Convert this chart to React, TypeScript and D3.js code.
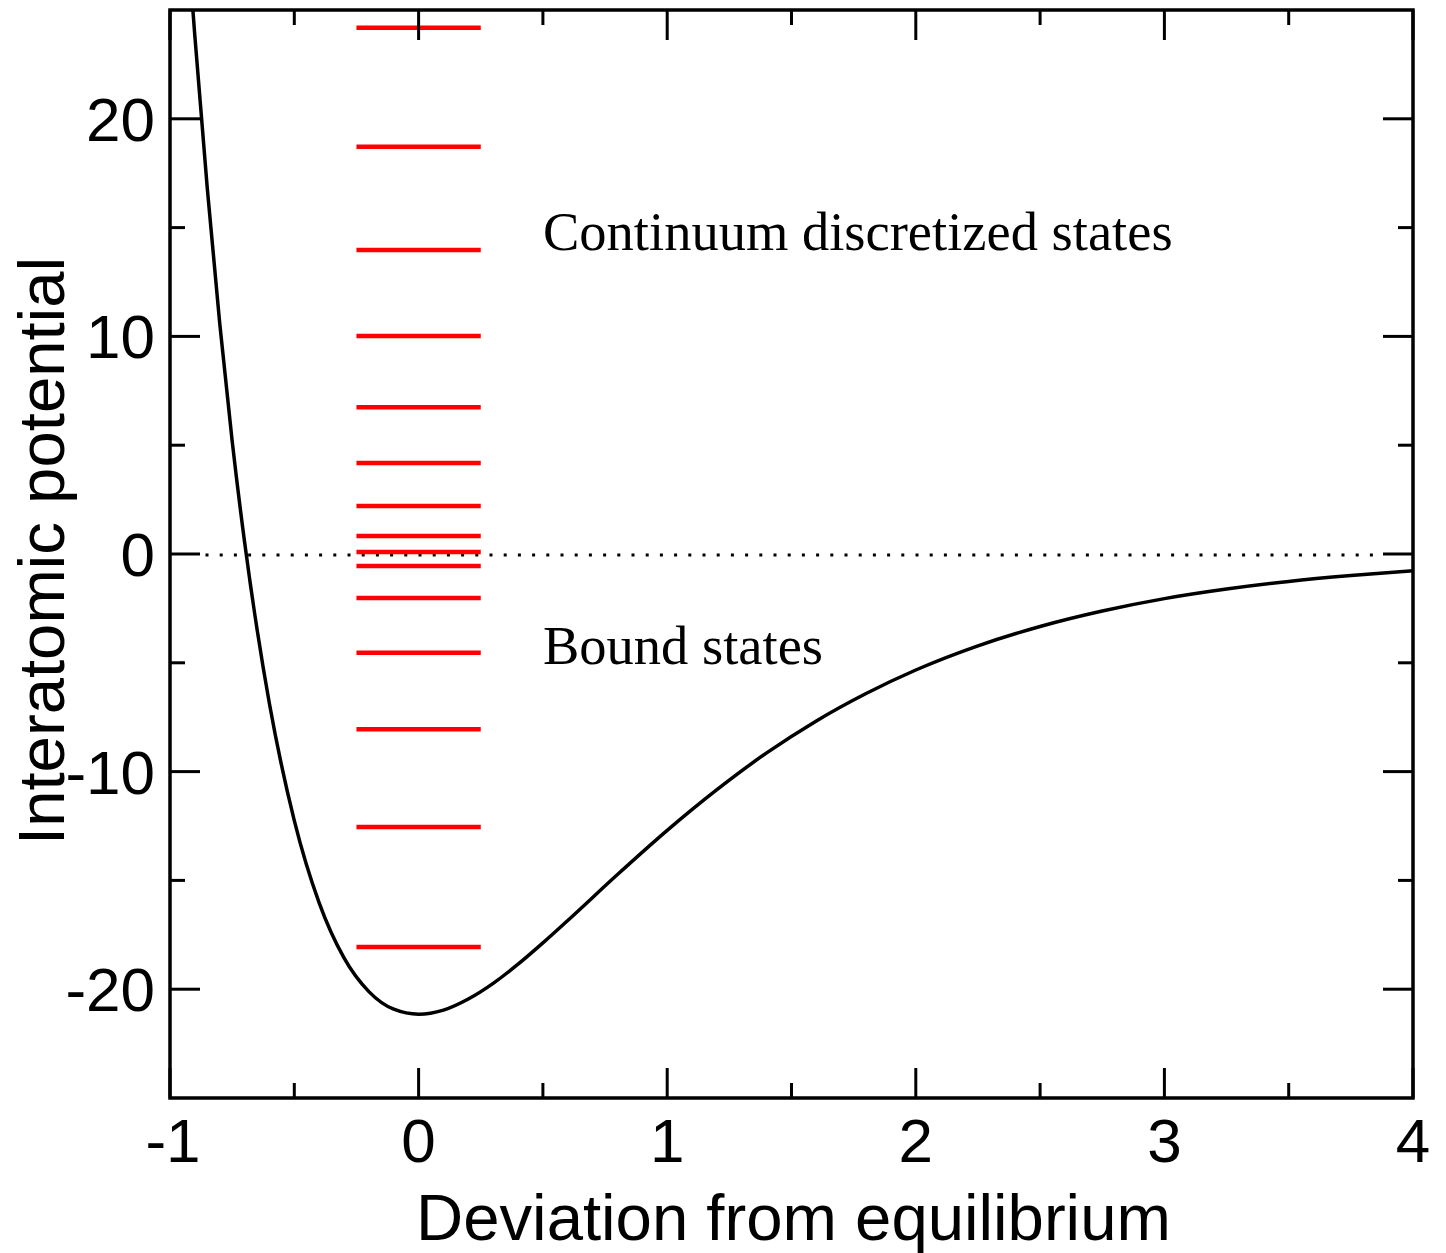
import React from "react";
import * as d3 from "d3";

// Potential curve (x: deviation, y: potential)
const curveX = [-0.91, -0.9, -0.85, -0.8, -0.75, -0.7, -0.65, -0.6, -0.5, -0.4, -0.3, -0.2, -0.1, 0, 0.1, 0.2, 0.3, 0.4, 0.5, 0.6, 0.8, 1.0, 1.2, 1.4, 1.6, 1.8, 2.0, 2.25, 2.5, 2.75, 3.0, 3.25, 3.5, 3.75, 4.0];
const curveY = [25.3, 23.8, 16.8, 10.6, 5.2, 0.55, -3.45, -6.88, -12.25, -16.03, -18.56, -20.11, -20.92, -21.15, -20.96, -20.45, -19.73, -18.85, -17.87, -16.84, -14.73, -12.7, -10.83, -9.14, -7.67, -6.41, -5.33, -4.22, -3.33, -2.62, -2.05, -1.61, -1.26, -0.99, -0.77];

// Energy levels (red bars)
const levels = [24.18, 18.71, 13.97, 10.02, 6.74, 4.18, 2.21, 0.83, 0.09, -0.55, -2.02, -4.54, -8.05, -12.55, -18.06];
const levelSpan = [-0.25, 0.25];

const xMajor = [-1, 0, 1, 2, 3, 4];
const xMinor = [-0.5, 0.5, 1.5, 2.5, 3.5];
const yMajor = [-20, -10, 0, 10, 20];
const yMinor = [-15, -5, 5, 15];

const W = 1446;
const H = 1253;
const left = 170, right = 1413, top = 10, bottom = 1098;

export default function App() {
  const x = d3.scaleLinear().domain([-1, 4]).range([left, right]);
  const y = d3.scaleLinear().domain([-25, 25]).range([bottom, top]);
  const pts = curveX.map((v, i) => [v, curveY[i]] as [number, number]);
  const line = d3
    .line<[number, number]>()
    .x((d) => x(d[0]))
    .y((d) => y(d[1]))
    .curve(d3.curveMonotoneX);
  const major = 30, minor = 15;
  const sans = "'Liberation Sans', Arial, sans-serif";
  const serif = "'Liberation Serif', 'Times New Roman', serif";
  const dotStart = x(-1) + 35.5;
  return (
    <div style={{ position: "absolute", left: 0, top: 0 }}>
      <svg width={W} height={H} style={{ display: "block", background: "#fff" }}>
        <defs>
          <clipPath id="plot">
            <rect x={left} y={top} width={right - left} height={bottom - top} />
          </clipPath>
        </defs>
        {/* zero dotted line */}
        <line x1={dotStart} x2={x(4) - 30} y1={y(0) + 1} y2={y(0) + 1} stroke="#000" strokeWidth={3} strokeDasharray="3 11.2" />
        {/* levels */}
        {levels.map((v, i) => (
          <line key={i} x1={x(levelSpan[0])} x2={x(levelSpan[1])} y1={y(v)} y2={y(v)} stroke="#ff0000" strokeWidth={4.5} />
        ))}
        {/* curve */}
        <path d={line(pts) || ""} fill="none" stroke="#000" strokeWidth={3.5} clipPath="url(#plot)" />
        {/* ticks */}
        {xMajor.map((v) => (
          <g key={"xM" + v}>
            <line x1={x(v)} x2={x(v)} y1={bottom} y2={bottom - major} stroke="#000" strokeWidth={3} />
            <line x1={x(v)} x2={x(v)} y1={top} y2={top + major} stroke="#000" strokeWidth={3} />
            <text x={x(v) + (v < 0 ? 3 : 0)} y={1162} textAnchor="middle" fontFamily={sans} fontSize={62}>{v}</text>
          </g>
        ))}
        {xMinor.map((v) => (
          <g key={"xm" + v}>
            <line x1={x(v)} x2={x(v)} y1={bottom} y2={bottom - minor} stroke="#000" strokeWidth={3} />
            <line x1={x(v)} x2={x(v)} y1={top} y2={top + minor} stroke="#000" strokeWidth={3} />
          </g>
        ))}
        {yMajor.map((v) => (
          <g key={"yM" + v}>
            <line x1={left} x2={left + major} y1={y(v)} y2={y(v)} stroke="#000" strokeWidth={3} />
            <line x1={right} x2={right - major} y1={y(v)} y2={y(v)} stroke="#000" strokeWidth={3} />
            <text x={155} y={y(v) + 22} textAnchor="end" fontFamily={sans} fontSize={62}>{v}</text>
          </g>
        ))}
        {yMinor.map((v) => (
          <g key={"ym" + v}>
            <line x1={left} x2={left + minor} y1={y(v)} y2={y(v)} stroke="#000" strokeWidth={3} />
            <line x1={right} x2={right - minor} y1={y(v)} y2={y(v)} stroke="#000" strokeWidth={3} />
          </g>
        ))}
        {/* frame */}
        <rect x={left} y={top} width={right - left} height={bottom - top} fill="none" stroke="#000" strokeWidth={3.5} />
        {/* annotations */}
        <text x={543} y={250} fontFamily={serif} fontSize={54.5}>Continuum discretized states</text>
        <text x={543} y={664} fontFamily={serif} fontSize={54.5}>Bound states</text>
        {/* axis titles */}
        <text x={416} y={1240} fontFamily={sans} fontSize={65.3}>Deviation from equilibrium</text>
        <text transform={`translate(64,${551}) rotate(-90)`} textAnchor="middle" fontFamily={sans} fontSize={65.3}>Interatomic potential</text>
      </svg>
    </div>
  );
}
